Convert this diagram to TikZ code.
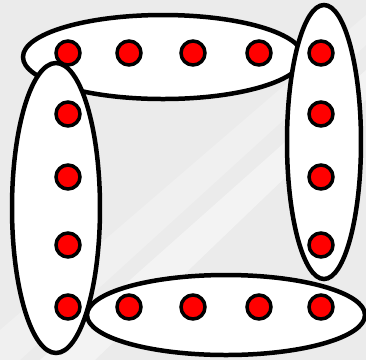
\documentclass[tikz,border=0pt]{standalone}
\usepackage{tikz}

\definecolor{slidegray}{RGB}{235,235,235}

\begin{document}
\begin{tikzpicture}[x=0.02cm, y=-0.02cm,
        ring/.style={draw=black, fill=white, line width=0.09cm},
        dot/.style={circle, draw=black, fill=red, line width=0.07cm, minimum size=0.48cm, inner sep=0pt}]
        % Background
        \fill[slidegray] (0,0) rectangle (366,360);
        \fill[white, opacity=0.4] (40,360) -- (366,70) -- (366,100) -- (95,360) -- cycle;
        \fill[white, opacity=0.25] (0,330) -- (366,15) -- (366,45) -- (20,360) -- (0,360) -- cycle;
        \useasboundingbox (0,0) rectangle (366,360);
        
        % Groups
        \draw[ring] (163,57) ellipse [x radius=140, y radius=42];
        \draw[ring] (56,208) ellipse [x radius=44, y radius=145];
        \draw[ring] (324,142) ellipse [x radius=37, y radius=137];
        \draw[ring] (226,315) ellipse [x radius=139, y radius=40];
        
        % Points
        \foreach \x [count=\i] in {68,129,193,259,321} {
            \node[dot] (t\i) at (\x,53) {};
            \node[dot] (b\i) at (\x,307) {};
        }
        \foreach \y [count=\i] in {114,177,245} {
            \node[dot] (l\i) at (68,\y) {};
            \node[dot] (r\i) at (321,\y) {};
        }
    \end{tikzpicture}
\end{document}
